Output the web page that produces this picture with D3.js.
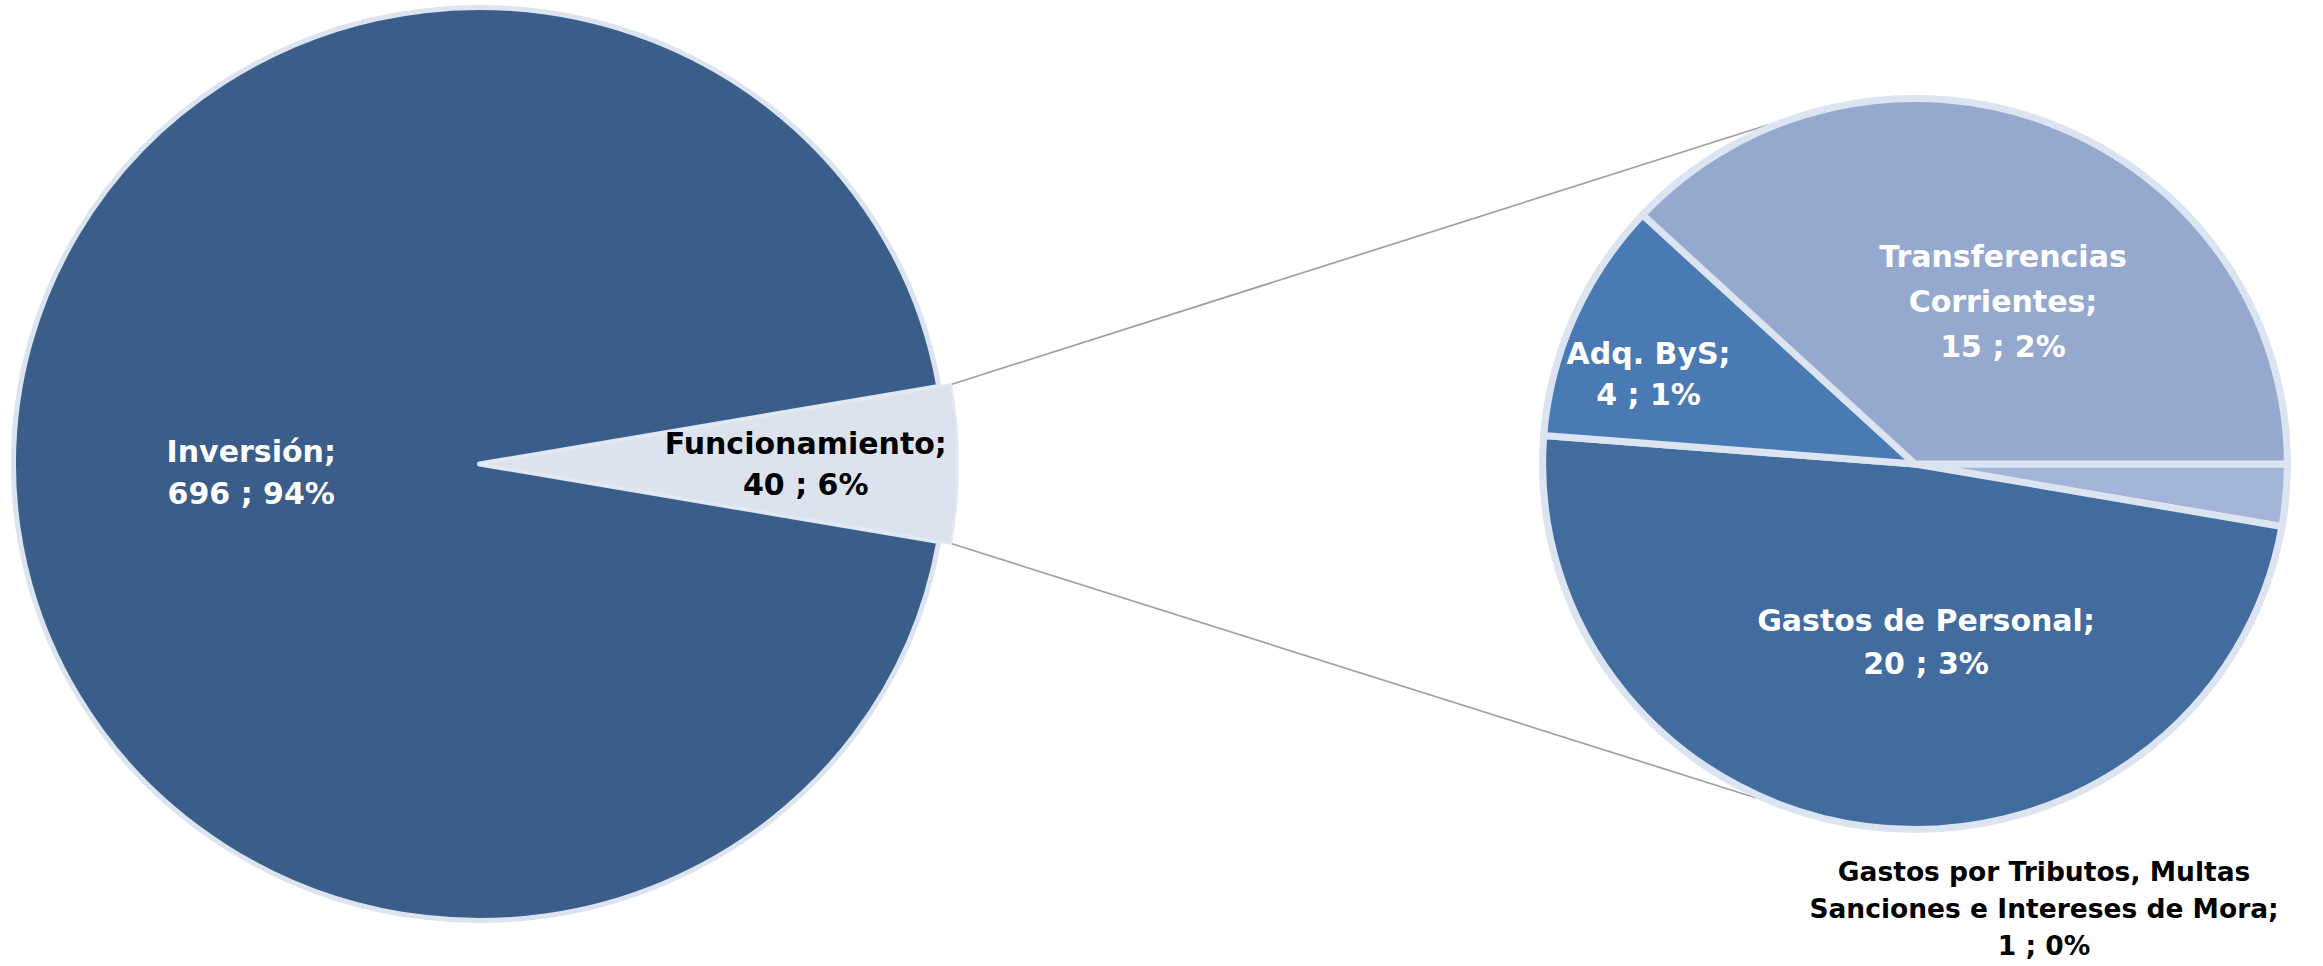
<html>
    <head>
        <title>Pie of Pie</title>
        <meta charset="utf8">
        <style>
            body { margin: 0; background: #fff; }
            text { font-family: "DejaVu Sans", sans-serif; font-weight: bold; }
        </style>
    </head>
    <body>
        <svg width="2323" height="966"></svg>

        <script src="https://d3js.org/d3.v7.min.js"></script>
        <script>
            // main pie
            var mainCategories = ["Inversión", "Funcionamiento"];
            var mainValues = [696, 40];
            var mainPct = [94, 6];

            // second pie (breakdown of Funcionamiento)
            var subCategories = ["Gastos por Tributos, Multas\nSanciones e Intereses de Mora", "Gastos de Personal", "Adq. ByS", "Transferencias\nCorrientes"];
            var subValues = [1.1, 19.5, 4.3, 15.3];
            var subPct = [0, 3, 1, 2];
        </script>

        <script>
            var svg = d3.select("svg");
            var deg = Math.PI / 180;

            var main = { cx: 479.5, cy: 464, r: 456.5, sx: 1.021 };
            var sub = { cx: 1915, cy: 464, r: 365.5, sx: 1.019 };

            var mainColors = ["#3a5d89", "#dce3ef"];
            var subColors = ["#a3b5d6", "#426c9e", "#4a7ab3", "#95a9cf"];
            var edge = "#dbe4f0";

            // label placement: [angle in degrees, fraction of radius, font size, line height, colour]
            var mainLabels = [[268, 0.49, 30, 42, "#fff"], [90, 0.70, 30, 41, "#000"]];
            var subLabels = [[164.1, 1.265, 26.5, 37, "#000"], [176.5, 0.486, 30, 43, "#fff"], [289.1, 0.757, 30, 41, "#fff"], [27.9, 0.505, 30, 45, "#fff"]];

            // main pie: the Funcionamiento slice sits centred on the right
            var half = Math.PI * mainValues[1] / d3.sum(mainValues);
            var mainPie = d3.pie().sort(null)
                .startAngle(Math.PI / 2 + half)
                .endAngle(Math.PI / 2 + half + 2 * Math.PI);
            var mainArcs = mainPie(mainValues);

            var subPie = d3.pie().sort(null)
                .startAngle(Math.PI / 2)
                .endAngle(Math.PI / 2 + 2 * Math.PI);
            var subArcs = subPie(subValues);

            function polar(p, angle, radius) {
                return [p.cx + Math.sin(angle) * radius * p.sx, p.cy - Math.cos(angle) * radius];
            }

            // connector lines from the Funcionamiento slice to the second pie
            var fArc = mainArcs[1];
            var wedgeR = main.r + 12;
            var links = [
                [polar(main, fArc.startAngle, wedgeR + 1), polar(sub, 337 * deg, sub.r + 3)],
                [polar(main, fArc.endAngle, wedgeR + 1), polar(sub, 205 * deg, sub.r + 3)]
            ];
            svg.append("g")
                .selectAll("line")
                .data(links)
                .enter().append("line")
                .attr("x1", d => d[0][0]).attr("y1", d => d[0][1])
                .attr("x2", d => d[1][0]).attr("y2", d => d[1][1])
                .attr("stroke", "#a0a0a0")
                .attr("stroke-width", 1.7);

            var mainG = svg.append("g")
                .attr("transform", "translate(" + main.cx + "," + main.cy + ") scale(" + main.sx + ",1)");

            mainG.selectAll("path")
                .data(mainArcs)
                .enter().append("path")
                .attr("d", (d, i) => d3.arc().innerRadius(0).outerRadius(i == 1 ? wedgeR : main.r)(d))
                .attr("fill", (d, i) => mainColors[i])
                .attr("stroke", (d, i) => i == 1 ? "#e2e9f3" : edge)
                .attr("stroke-width", (d, i) => i == 1 ? 2.5 : 5)
                .attr("stroke-linejoin", "round");

            var subG = svg.append("g")
                .attr("transform", "translate(" + sub.cx + "," + sub.cy + ") scale(" + sub.sx + ",1)");

            subG.selectAll("path")
                .data(subArcs)
                .enter().append("path")
                .attr("d", d3.arc().innerRadius(0).outerRadius(sub.r))
                .attr("fill", (d, i) => subColors[i])
                .attr("stroke", edge)
                .attr("stroke-width", 7)
                .attr("stroke-linejoin", "round");

            // data labels
            function drawLabels(p, arcs, names, vals, pcts, layout) {
                arcs.forEach(function(a, i) {
                    var l = layout[i];
                    var pos = polar(p, l[0] * deg, l[1] * p.r);
                    var lines = names[i].split("\n");
                    lines[lines.length - 1] += ";";
                    lines.push(Math.round(vals[i]) + " ; " + pcts[i] + "%");
                    var t = svg.append("text")
                        .attr("text-anchor", "middle")
                        .attr("font-size", l[2])
                        .attr("fill", l[4]);
                    var top = pos[1] - (lines.length - 1) * l[3] / 2 + l[2] * 0.36;
                    lines.forEach(function(s, k) {
                        t.append("tspan")
                            .attr("x", pos[0])
                            .attr("y", top + k * l[3])
                            .text(s);
                    });
                });
            }

            drawLabels(main, mainArcs, mainCategories, mainValues, mainPct, mainLabels);
            drawLabels(sub, subArcs, subCategories, subValues, subPct, subLabels);
        </script>
    </body>
</html>
